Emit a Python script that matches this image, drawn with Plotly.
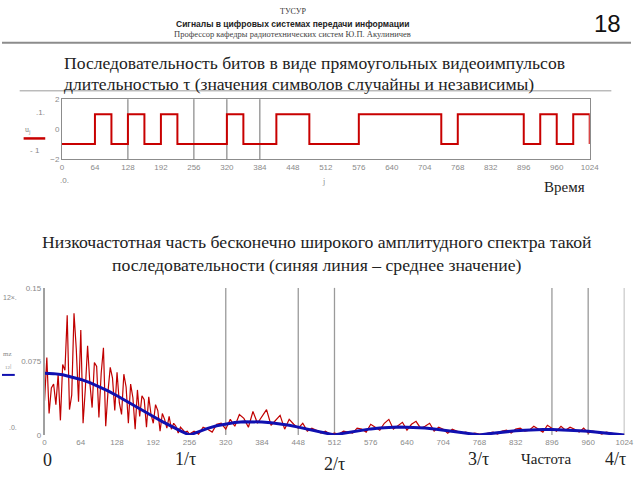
import plotly.graph_objects as go

W, H = 640, 480

# ---------------- data: top chart (bit sequence) ----------------
bit_len = 32
bits = [-1, -1, 1, -1, 1, -1, 1, -1, -1, -1, 1, -1, -1, 1, 1, -1,
        -1, -1, 1, 1, 1, 1, 1, -1, 1, 1, 1, 1, -1, 1, -1, 1]
end_value = -1
top_xticks = [0, 64, 128, 192, 256, 320, 384, 448, 512, 576, 640, 704,
              768, 832, 896, 960, 1024]
top_yticks = [-2, 0, 2]
top_grid = [128, 256, 320, 384]

# ---------------- data: bottom chart (spectrum) ----------------
red_lo_step = 4      # samples 0..256
spec_red_lo = [0.035, 0.079, 0.022, 0.048, 0.052, 0.031, 0.062, 0.015, 0.072, 0.066,
               0.122, 0.026, 0.041, 0.124, 0.088, 0.034, 0.107, 0.012, 0.047, 0.091,
               0.053, 0.028, 0.074, 0.070, 0.018, 0.063, 0.089, 0.009, 0.044, 0.069,
               0.058, 0.025, 0.064, 0.033, 0.021, 0.062, 0.049, 0.012, 0.052, 0.038,
               0.006, 0.046, 0.019, 0.040, 0.036, 0.008, 0.039, 0.021, 0.012, 0.031,
               0.025, 0.004, 0.022, 0.016, 0.007, 0.019, 0.006, 0.012, 0.009, 0.002,
               0.008, 0.005, 0.003, 0.004, 0.001]
red_hi_start, red_hi_step = 264, 8   # samples 264..1024
spec_red_hi = [0.004, 0.001, 0.008, 0.006, 0.003, 0.011, 0.012, 0.006,
               0.016, 0.009, 0.021, 0.017, 0.008, 0.024, 0.012, 0.019,
               0.026, 0.010, 0.015, 0.020, 0.006, 0.016, 0.011, 0.007,
               0.012, 0.004, 0.007, 0.005, 0.002, 0.004, 0.001, 0.002,
               0.001, 0.004, 0.003, 0.002, 0.007, 0.006, 0.003, 0.011,
               0.008, 0.005, 0.012, 0.016, 0.006, 0.010, 0.013, 0.005,
               0.011, 0.014, 0.007, 0.009, 0.012, 0.004, 0.008, 0.006,
               0.002, 0.006, 0.004, 0.002, 0.003, 0.001, 0.002, 0.001,
               0.001, 0.002, 0.003, 0.001, 0.004, 0.005, 0.002, 0.006,
               0.007, 0.004, 0.005, 0.009, 0.006, 0.003, 0.010, 0.007,
               0.004, 0.009, 0.005, 0.008, 0.006, 0.003, 0.007, 0.002,
               0.004, 0.003, 0.001, 0.003, 0.002, 0.001, 0.001, 0.000]
mean_step = 16       # samples 0..1024
spec_mean = [0.0630, 0.0626, 0.0614, 0.0594, 0.0567, 0.0534, 0.0494, 0.0450,
             0.0401, 0.0350, 0.0296, 0.0243, 0.0189, 0.0137, 0.0088, 0.0042,
             0.0000, 0.0037, 0.0068, 0.0094, 0.0113, 0.0127, 0.0135, 0.0137,
             0.0134, 0.0126, 0.0114, 0.0099, 0.0081, 0.0061, 0.0041, 0.0020,
             0.0000, 0.0019, 0.0036, 0.0051, 0.0063, 0.0072, 0.0078, 0.0081,
             0.0080, 0.0077, 0.0071, 0.0062, 0.0052, 0.0040, 0.0027, 0.0013,
             0.0000, 0.0013, 0.0025, 0.0035, 0.0044, 0.0050, 0.0055, 0.0057,
             0.0057, 0.0055, 0.0051, 0.0045, 0.0038, 0.0029, 0.0020, 0.0010,
             0.0000]
bot_xticks = [0, 64, 128, 192, 256, 320, 384, 448, 512, 576, 640, 704,
              768, 832, 896, 960, 1024]
bot_yticks = [0, 0.075, 0.15]
bot_yticktext = ["0", "0.075", "0.15"]
bot_grid = [320, 448, 512, 896, 960, 1024]

# ---------------- helpers ----------------
def px(x):
    return x / W

def py(y):
    return 1 - y / H

SERIF = "Liberation Serif"
SANS = "Liberation Sans"
TICKFONT = dict(family=SANS, size=8, color="#8a8a8a")

fig = go.Figure()

# top chart trace
bx = [i * bit_len for i in range(len(bits))] + [len(bits) * bit_len, len(bits) * bit_len]
by = bits + [bits[-1], end_value]
fig.add_trace(go.Scatter(x=bx, y=by, mode="lines", line=dict(color="#c80000", width=2, shape="hv"),
                         xaxis="x", yaxis="y", showlegend=False, hoverinfo="skip"))

# bottom chart traces
rx = [i * red_lo_step for i in range(len(spec_red_lo))] + \
     [red_hi_start + i * red_hi_step for i in range(len(spec_red_hi))]
ry = spec_red_lo + spec_red_hi
fig.add_trace(go.Scatter(x=rx, y=ry, mode="lines", line=dict(color="#c00000", width=1.2),
                         xaxis="x2", yaxis="y2", showlegend=False, hoverinfo="skip"))
mx = [i * mean_step for i in range(len(spec_mean))]
fig.add_trace(go.Scatter(x=mx, y=spec_mean, mode="lines", line=dict(color="#1010b0", width=3),
                         xaxis="x2", yaxis="y2", showlegend=False, hoverinfo="skip"))

shapes = []
for g in top_grid:
    shapes.append(dict(type="line", xref="x", yref="y domain", x0=g, x1=g, y0=0, y1=1,
                       line=dict(color="#6e6e6e", width=1), layer="below"))
for g in bot_grid:
    shapes.append(dict(type="line", xref="x2", yref="y2 domain", x0=g, x1=g, y0=0, y1=1,
                       line=dict(color="#9a9a9a", width=1.3), layer="below"))
# header rule and title rule
shapes.append(dict(type="line", xref="paper", yref="paper", x0=0, x1=1, y0=py(39.5), y1=py(39.5),
                   line=dict(color="#8c8c8c", width=2)))
shapes.append(dict(type="line", xref="paper", yref="paper", x0=px(18), x1=px(620), y0=py(88.5), y1=py(88.5),
                   line=dict(color="#9a9a9a", width=1)))
# small legend strokes (Mathcad artifacts)
shapes.append(dict(type="line", xref="paper", yref="paper", x0=px(22), x1=px(44), y0=py(137), y1=py(137),
                   line=dict(color="#c80000", width=2.5)))
shapes.append(dict(type="line", xref="paper", yref="paper", x0=px(0), x1=px(13), y0=py(378), y1=py(378),
                   line=dict(color="#1010b0", width=2)))

ann = []
def text(x, y, t, size, family=SERIF, color="#222", xanchor="center", yanchor="middle"):
    ann.append(dict(x=px(x), y=py(y), xref="paper", yref="paper", text=t, showarrow=False,
                    font=dict(family=family, size=size, color=color), xanchor=xanchor, yanchor=yanchor))

text(296, 8, "ТУСУР", 8, SERIF, "#333")
text(296, 20, "<b>Сигналы в цифровых системах передачи информации</b>", 8.5, SANS, "#222")
text(296, 31, "Профессор кафедры радиотехнических систем Ю.П. Акулиничев", 8.5, SERIF, "#444")
text(616, 20, "18", 24, SANS, "#111")

text(61, 60, "Последовательность битов в виде прямоугольных видеоимпульсов", 17.6, SERIF, "#222", "left")
text(61, 82, "длительностью τ (значения символов случайны и независимы)", 17.6, SERIF, "#222", "left")
text(321, 243, "Низкочастотная часть бесконечно широкого амплитудного спектра такой", 17.7, SERIF, "#222")
text(321, 266, "последовательности (синяя линия – среднее значение)", 17.7, SERIF, "#222")

text(572, 187, "Время", 15, SERIF, "#222")
text(46, 465, "0", 18, SERIF, "#222")
text(187, 464, "1/τ", 18, SERIF, "#222")
text(338, 469, "2/τ", 18, SERIF, "#222")
text(485, 464, "3/τ", 18, SERIF, "#222")
text(554, 464, "Частота", 15, SERIF, "#222")
text(624, 464, "4/τ", 18, SERIF, "#222")

# Mathcad side labels
text(39, 111, ".1.", 8, SANS, "#888")
text(26, 128, "u<sub>j</sub>", 8, SERIF, "#888")
text(34, 149, "- 1", 8, SANS, "#888")
text(64, 180, ".0.", 8, SANS, "#888")
text(327, 181, "j", 8, SERIF, "#888")
text(8, 299, "12×.", 7, SANS, "#888")
text(6, 357, "mz", 7, SERIF, "#888")
text(6, 369, "<sub>12</sub>|", 7, SERIF, "#888")
text(11, 432, ".0.", 7, SANS, "#888")

fig.update_layout(
    width=W, height=H, margin=dict(l=0, r=0, t=0, b=0),
    paper_bgcolor="white", plot_bgcolor="white",
    showlegend=False, shapes=shapes, annotations=ann,
    xaxis=dict(domain=[px(61), px(598)], range=[0, 1024], tickvals=top_xticks, ticks="",
               showgrid=False, zeroline=False, showline=True, mirror=True, linecolor="#8c8c8c",
               linewidth=1, tickfont=TICKFONT, anchor="y", fixedrange=True),
    yaxis=dict(domain=[py(158), py(97)], range=[-2, 2], tickvals=top_yticks, ticks="",
               showgrid=False, zeroline=False, showline=True, mirror=True, linecolor="#8c8c8c",
               linewidth=1, tickfont=TICKFONT, anchor="x", fixedrange=True),
    xaxis2=dict(domain=[px(43.3), px(633.3)], range=[0, 1024], tickvals=bot_xticks, ticks="",
                showgrid=False, zeroline=False, showline=False, tickfont=TICKFONT, anchor="y2",
                ticklabelstandoff=1, fixedrange=True),
    yaxis2=dict(domain=[py(439.3), py(289.3)], range=[0, 0.15], tickvals=bot_yticks,
                ticktext=bot_yticktext, ticks="", showgrid=False, zeroline=False, showline=True,
                linecolor="#a0a0a0", linewidth=1.5, tickfont=TICKFONT, anchor="x2", fixedrange=True),
)

fig.write_html("out.html", config={"displayModeBar": False},
               post_script="document.body.style.margin='0';document.body.style.overflow='hidden';")
